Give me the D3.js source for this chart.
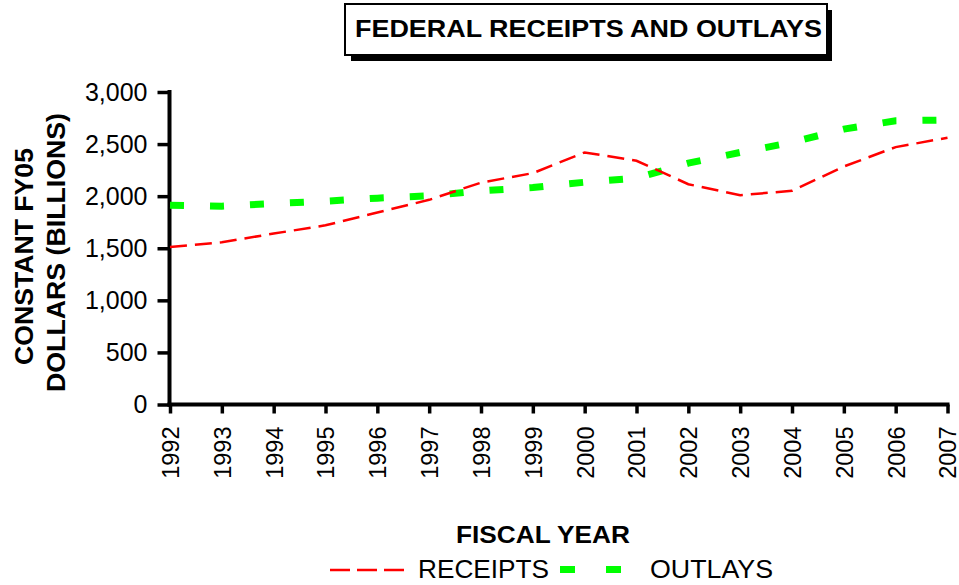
<!DOCTYPE html>
<html><head><meta charset="utf-8">
<script src="https://cdn.jsdelivr.net/npm/d3@7"></script>
<style>body{margin:0;background:#fff}svg{display:block;font-family:"Liberation Sans",Arial,sans-serif}</style>
</head><body><svg id="c" width="959" height="585"></svg>
<script>
const years = [1992,1993,1994,1995,1996,1997,1998,1999,2000,2001,2002,2003,2004,2005,2006,2007];
const receipts = [1512,1557,1641,1720,1843,1965,2130,2221,2420,2340,2115,2010,2051,2285,2471,2561];
const outlays = [1913,1904,1929,1952,1981,2003,2051,2083,2134,2173,2317,2420,2516,2644,2724,2731];
const yTicks = [0,500,1000,1500,2000,2500,3000];

const FONT = "Liberation Sans, Arial, sans-serif";
const svg = d3.select("#c");
const x = d3.scaleLinear().domain([1992,2007]).range([170,947.5]);
const y = d3.scaleLinear().domain([0,3000]).range([404.5,92]);

function stretch(sel, factor){
  sel.each(function(){
    const w = this.getComputedTextLength();
    d3.select(this).attr("textLength", w*factor).attr("lengthAdjust","spacingAndGlyphs");
  });
}

// title box with shadow
svg.append("rect").attr("x",351).attr("y",10).attr("width",481).attr("height",51).attr("fill","#000");
svg.append("rect").attr("x",345).attr("y",4).attr("width",482).attr("height",51).attr("fill","#fff").attr("stroke","#000").attr("stroke-width",2);
svg.append("text").attr("x",355).attr("y",37).attr("font-weight","bold").attr("font-size",24)
  .attr("textLength",467).attr("lengthAdjust","spacingAndGlyphs").text("FEDERAL RECEIPTS AND OUTLAYS");

// axes
const yAxis = d3.axisLeft(y).tickValues(yTicks).tickSize(12).tickPadding(10).tickFormat(d3.format(","));
const gy = svg.append("g").attr("transform","translate(169.5,0)").call(yAxis);
gy.select(".domain").attr("stroke-width",4).attr("d","M0,90V406.5");
gy.selectAll(".tick line").attr("stroke-width",3.5);
gy.selectAll(".tick text").attr("font-size",25).attr("fill","#000").attr("font-family",FONT).attr("x",-22);

const xAxis = d3.axisBottom(x).tickValues(years).tickSize(9).tickFormat(d3.format("d"));
const gx = svg.append("g").attr("transform","translate(0,404.5)").call(xAxis);
gx.select(".domain").attr("stroke-width",4).attr("d","M167.5,0H949.5");
gx.selectAll(".tick line").attr("stroke-width",3.5);
gx.selectAll(".tick text").attr("font-size",23.5).attr("fill","#000").attr("font-family",FONT)
  .attr("transform","rotate(-90)").attr("text-anchor","end").attr("x",-22).attr("y",0).attr("dy","0.36em");

// lines
const line = d3.line().x((d,i)=>x(years[i])).y(d=>y(d));
svg.append("path").datum(outlays).attr("d",line).attr("fill","none").attr("stroke","#00ff00").attr("stroke-width",7).attr("stroke-dasharray","14,26");
svg.append("path").datum(receipts).attr("d",line).attr("fill","none").attr("stroke","#ff0000").attr("stroke-width",2.5).attr("stroke-dasharray","17,8");

// axis titles
svg.append("text").attr("x",456).attr("y",543).attr("font-weight","bold").attr("font-size",23)
  .attr("textLength",174).attr("lengthAdjust","spacingAndGlyphs").text("FISCAL YEAR");
svg.append("text").attr("transform","translate(33,256.5) rotate(-90)").attr("text-anchor","middle").attr("font-weight","bold").attr("font-size",25)
  .attr("textLength",217).attr("lengthAdjust","spacingAndGlyphs").text("CONSTANT FY05");
svg.append("text").attr("transform","translate(65,252.5) rotate(-90)").attr("text-anchor","middle").attr("font-weight","bold").attr("font-size",25)
  .attr("textLength",279).attr("lengthAdjust","spacingAndGlyphs").text("DOLLARS (BILLIONS)");

// legend
svg.append("line").attr("x1",330).attr("x2",404).attr("y1",570).attr("y2",570).attr("stroke","#ff0000").attr("stroke-width",2.5).attr("stroke-dasharray","20,7");
svg.append("text").attr("x",418).attr("y",578).attr("font-size",25).attr("textLength",131).attr("lengthAdjust","spacingAndGlyphs").text("RECEIPTS");
svg.append("line").attr("x1",560).attr("x2",623).attr("y1",569.5).attr("y2",569.5).attr("stroke","#00ff00").attr("stroke-width",7).attr("stroke-dasharray","15,31");
svg.append("text").attr("x",650).attr("y",578).attr("font-size",25).attr("textLength",123).attr("lengthAdjust","spacingAndGlyphs").text("OUTLAYS");
</script></body></html>
